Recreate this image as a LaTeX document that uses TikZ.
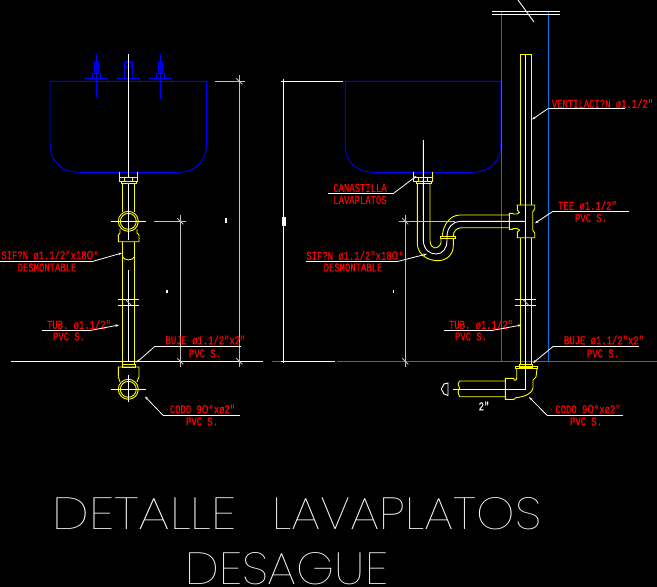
\documentclass[tikz,border=0pt]{standalone}
\usepackage{fontspec}
\usepackage{tikz}
\usetikzlibrary{positioning,calc,arrows.meta}
\newfontfamily\notefont[FakeStretch=0.74,FakeBold=0.35]{Liberation Mono}
\newfontfamily\zerofont[FakeBold=0.35]{Liberation Sans}
\newfontfamily\titlefont[UprightFont={* Thin}]{Poppins}
\newcommand{\zr}{{\zerofont 0}}
\definecolor{sinkblue}{RGB}{0,0,255}
\definecolor{wallblue}{RGB}{0,120,230}
\definecolor{dimgrey}{RGB}{192,192,192}
\definecolor{pipeyellow}{RGB}{255,255,0}
\definecolor{notered}{RGB}{255,0,0}
\tikzset{
  sink/.style={draw=sinkblue, line width=0.9pt},
  wall/.style={draw=wallblue, line width=0.9pt},
  pipe/.style={draw=pipeyellow, line width=0.9pt},
  axis/.style={draw=white, line width=0.9pt},
  dimline/.style={draw=dimgrey, line width=0.9pt},
  rule/.style={draw=white, line width=0.8pt},
  leader/.style={draw=white, line width=0.8pt, -{Stealth[length=3.5pt,width=2.5pt]}},
  note/.style={text=notered, font=\fontsize{12}{13}\notefont, inner sep=0pt},
  bigtitle/.style={text=white, font=\fontsize{45}{50}\titlefont, inner sep=0pt}
}
\begin{document}
\begin{tikzpicture}[x=1pt,y=-1pt]
    \fill[black] (0,0) rectangle (657,587);
    \useasboundingbox (0,0) rectangle (657,587);

    %coordinates
    \coordinate (axisA) at (128.3,54);
    \coordinate (axisB) at (423.3,140);
    \coordinate (vent)  at (525.5,54);

    \coordinate (sifonAtip) at (122,253);
    \coordinate (tubAtip)   at (119,325);
    \coordinate (bujeAtip)  at (136.5,362.5);
    \coordinate (codoAtip)  at (145,396.5);
    \coordinate (canaBtip)  at (416.5,176);
    \coordinate (sifonBtip) at (427,254);
    \coordinate (tubBtip)   at (521.5,325);
    \coordinate (bujeBtip)  at (533,363);
    \coordinate (codoBtip)  at (529,397);
    \coordinate (ventBtip)  at (532,119.5);
    \coordinate (teeBtip)   at (535,223.3);

    %rule ends
    \coordinate (sifonAl) at (0,261.3);   \coordinate (sifonAr) at (93,261.3);
    \coordinate (tubAl)   at (42,330.3);  \coordinate (tubAr)   at (91,330.3);
    \coordinate (bujeAl)  at (155,346.3); \coordinate (bujeAr)  at (240.7,346.3);
    \coordinate (codoAl)  at (163,415.3); \coordinate (codoAr)  at (240,415.3);
    \coordinate (canaBl)  at (328,193);   \coordinate (canaBr)  at (394,193);
    \coordinate (sifonBl) at (306,261.3); \coordinate (sifonBr) at (398,261.3);
    \coordinate (tubBl)   at (444,330.3); \coordinate (tubBr)   at (493,330.3);
    \coordinate (bujeBl)  at (553.3,346.3); \coordinate (bujeBr) at (639,346.3);
    \coordinate (codoBl)  at (547,415.3); \coordinate (codoBr)  at (623,415.3);
    \coordinate (ventBl)  at (548.5,108.3); \coordinate (ventBr) at (625,108.3);
    \coordinate (teeBl)   at (553,211.3); \coordinate (teeBr)   at (629,211.3);

    %walls and floor
    \draw[wall] (501.3,12) -- (501.3,361.3);
    \draw[wall] (548.7,12) -- (548.7,361.3);
    \draw[axis] (11,361.3) -- (263,361.3);
    \draw[wall] (272,361.3) -- (281,361.3);
    \draw[wall] (337,361.3) -- (657,361.3);
    \draw[axis] (281,361.3) -- (335,361.3);
    \draw[axis] (492,11.5) -- (560,11.5);
    \draw[axis] (492,14) -- (560,14);
    \draw[axis] (518,0) -- (534,22);

    %sinks
    \draw[sink] (50,81.3) -- (206.5,81.3) -- (206.5,143) .. controls (206.5,162) and (195,172.3) .. (178,172.3) -- (79,172.3) .. controls (62,172.3) and (50,162) .. (50,143) -- cycle;
    \draw[sink] (345.3,81.3) -- (500.7,81.3) -- (500.7,144) .. controls (500.7,162) and (490,172.3) .. (471.7,172.3) -- (374,172.3) .. controls (357,172.3) and (345.3,162) .. (345.3,146) -- cycle;

    %taps
    \foreach \tapx/\tapend in {96.3/96.7,160.3/99} {
      \draw[sink] (\tapx-11,78) rectangle (\tapx+11,81.3);
      \draw[sink] (\tapx-4,73.3) rectangle (\tapx+4,78);
      \draw[sink] (\tapx-2.3,62.3) rectangle (\tapx+2.3,73.3);
      \draw[sink] (\tapx,54) -- (\tapx,\tapend);
    }
    \draw[sink] (117.3,78) rectangle (139.3,81.3);
    \draw[sink] (124.3,78) -- (124.3,62.7) -- (132.7,62.7) -- (132.7,78);
    \draw[sink] (128.3,64) circle (3.5);

    %left pipe
    \draw[pipe] (119.3,172.3) -- (119.3,181.7) -- (137.7,181.7) -- (137.7,172.3);
    \draw[pipe] (119.3,177.3) -- (137.7,177.3);
    \draw[pipe] (124.3,177.3) -- (124.3,181.7);
    \draw[pipe] (132.3,177.3) -- (132.3,181.7);
    \draw[pipe] (121.7,181.7) -- (121.7,183.7) -- (136.3,183.7) -- (136.3,181.7);
    \draw[pipe] (122.3,183.7) -- (122.3,212);
    \draw[pipe] (134.7,183.7) -- (134.7,212);
    \draw[pipe] (128.3,221.3) circle (8);
    \draw[pipe] (128.3,221.3) circle (10);
    \draw[pipe] (120,229) -- (120,233) -- (118.3,235) -- (118.3,241.7) -- (139,241.7) -- (139,235) -- (137,233) -- (137,229);
    \draw[pipe] (122.3,241.7) -- (122.3,364);
    \draw[pipe] (134.7,241.7) -- (134.7,364);
    \draw[pipe] (122.3,256.5) .. controls (124,261) and (133,261) .. (134.7,256.5);
    \draw[pipe] (122,364) rectangle (135,367);
    \draw[pipe] (118.3,376.7) -- (118.3,367) -- (139,367) -- (139,376.7) -- (137,382);
    \draw[pipe] (118.3,376.7) -- (120,382);
    \draw[pipe] (128.3,389.3) circle (8);
    \draw[pipe] (128.3,389.3) circle (10);
    \draw[axis] (axisA) -- (128.3,177);
    \draw[axis] (128.3,184) -- (128.3,240);
    \draw[axis] (128.3,270) -- (128.3,362);
    \draw[axis] (128.3,375) -- (128.3,402);
    \draw[axis] (111,221.3) -- (146,221.3);
    \draw[axis] (111,389.3) -- (146,389.3);
    \draw[axis] (118.3,299.3) -- (139,299.3);
    \draw[axis] (118.3,305.3) -- (139,305.3);

    %right pipe and trap
    \draw[pipe] (413.3,172.3) -- (413.3,181.7) -- (432.7,181.7) -- (432.7,172.3);
    \draw[pipe] (413.3,177.3) -- (432.7,177.3);
    \draw[pipe] (418.5,177.3) -- (418.5,181.7);
    \draw[pipe] (427.5,177.3) -- (427.5,181.7);
    \draw[pipe] (416,181.7) -- (416,183.7) -- (431,183.7) -- (431,181.7);
    \draw[pipe] (417.3,183.7) -- (417.3,244) .. controls (418,255) and (428,260.7) .. (438,260.7) .. controls (447,260.7) and (453.3,254) .. (453.3,246) -- (453.3,238.7);
    \draw[pipe] (430,183.7) -- (430,241) .. controls (431,250) and (438,250) .. (441,243) -- (441,238.7);
    \draw[pipe] (440,236) rectangle (455.7,238.7);
    \draw[pipe] (442.3,236) .. controls (443,225) and (450,215) .. (460,215) -- (509.3,215);
    \draw[pipe] (453.3,236) .. controls (453.3,232) and (456,227.7) .. (461.7,227.7) -- (509.3,227.7);
    \draw[axis] (axisB) -- (423.3,241) .. controls (424,250) and (430,254) .. (436,254) .. controls (443,254) and (447,248) .. (447,241) -- (447,236) .. controls (447,228) and (453,221.3) .. (460,221.3) -- (525.5,221.3);

    %vent, tee and elbow
    \draw[pipe] (520.3,205) -- (520.3,54) -- (531.7,54) -- (531.7,205);
    \draw[pipe] (517.3,205) -- (534.7,205) -- (534.7,209) -- (532.7,212) -- (532.7,230) -- (534.7,233) -- (534.7,237.7) -- (517.3,237.7) -- (517.3,232) -- (519.5,230) -- (517,228.5) -- (513,228.5) -- (513,229.3) -- (509.3,229.3) -- (509.3,213.3) -- (513,213.3) -- (513,214) -- (517,214) -- (519.5,212.5) -- (517.3,210) -- cycle;
    \draw[pipe] (520.3,237.7) -- (520.3,364);
    \draw[pipe] (531.7,237.7) -- (531.7,364);
    \draw[pipe] (519.7,364) rectangle (532,367);
    \draw[pipe] (515.3,366.7) rectangle (537,368.7);
    \draw[pipe] (516.7,368.7) -- (516.7,378) .. controls (516.7,381) and (513,381) .. (514,378.3) -- (505.3,378.3) -- (505.3,399.3) -- (514,399.3) -- (516,397.7) .. controls (524,396.5) and (531,395) .. (533,388) -- (533,380) -- (536,377) -- (537,368.7);
    \draw[pipe] (505.3,381) -- (459.5,381) -- (458,384) -- (459.5,388) -- (458,392) -- (459.5,396.7) -- (505.3,396.7);
    \draw[axis] (vent) -- (525.5,389.3) -- (453.3,389.3);
    \draw[axis] (448,383) -- (444,384) -- (441.3,389) -- (444,394) -- (448,395.5) -- cycle;
    \draw[axis] (515,299.3) -- (535.7,299.3);
    \draw[axis] (515,305.3) -- (535.7,305.3);

    %dimensions
    \draw[dimline] (215,81.3) -- (245,81.3);
    \draw[dimline] (239.3,75) -- (239.3,367.3);
    \draw[dimline] (154,221.3) -- (186,221.3);
    \draw[dimline] (180.3,215) -- (180.3,367.3);
    \draw[dimline] (399.3,221.3) -- (455,221.3);
    \draw[dimline] (405.3,215) -- (405.3,367.3);
    \draw[axis] (281,81.3) -- (343,81.3);
    \draw[axis] (283.8,79) -- (283.8,363);
    \foreach \dimx/\dimy in {239.3/81.3,180.3/221.3,239.3/361.3,180.3/361.3,405.3/221.3,405.3/361.3,128.3/302.3,525.8/302.3} {
      \draw[dimline] (\dimx-3,\dimy-3) -- (\dimx+3,\dimy+3);
    }
    \fill[white] (225.3,218) rectangle (226.8,223);
    \fill[white] (165.5,290) rectangle (167.5,292.5);
    \fill[white] (282,217) rectangle (286,226);
    \fill[white] (392.5,290) rectangle (394,293);

    %nodes
    \node[note] (sifonA)  at (50,255)    {SIF?N ø1.1/2"x18\zr°};
    \node[note] (desmA)   at (47,267.5)  {DESMONTABLE};
    \node[note] (tubA)    at (79,324.5)  {TUB. ø1.1/2"};
    \node[note] (pvcA)    at (69,336.5)  {PVC S.};
    \node[note] (bujeA)   at (205.5,340) {BUJE ø1.1/2"x2"};
    \node[note] (pvcB)    at (205,353.5) {PVC S.};
    \node[note] (codoA)   at (202.5,409) {CODO 9\zr°xø2"};
    \node[note] (pvcC)    at (202,421.5) {PVC S.};

    \node[note] (canaB)   at (360,188) {CANASTILLA};
    \node[note] (lavaB)   at (360,200) {LAVAPLATOS};
    \node[note] (sifonB)  at (355,255.5) {SIF?N ø1.1/2"x18\zr°};
    \node[note] (desmB)   at (353,267.5) {DESMONTABLE};
    \node[note] (tubB)    at (481,324.5) {TUB. ø1.1/2"};
    \node[note] (pvcD)    at (471,336.5) {PVC S.};
    \node[note] (bujeB)   at (604,340)   {BUJE ø1.1/2"x2"};
    \node[note] (pvcE)    at (603,353.5) {PVC S.};
    \node[note] (codoB)   at (588,409)   {CODO 9\zr°xø2"};
    \node[note] (pvcF)    at (586,421.5) {PVC S.};
    \node[note] (ventB)   at (602.5,103.5) {VENTILACI?N ø1.1/2"};
    \node[note] (teeB)    at (587.5,205.5) {TEE ø1.1/2"};
    \node[note] (pvcG)    at (591,218)   {PVC S.};
    \node[note, text=white] (sizeB) at (484,406) {2"};

    \node[bigtitle, anchor=base west] (titleA) at (52,529) {\scalebox{1.165}[1]{DETALLE}};
    \node[bigtitle, anchor=base west] (titleB) at (272,529) {\scalebox{1.08}[1]{LAVAPLATOS}};
    \node[bigtitle, anchor=base west] (titleC) at (185,584.5) {\scalebox{1.07}[1]{DESAGUE}};

    %edges
    \draw[rule] (sifonAl) -- (sifonAr); \draw[leader] (sifonAr) -- (sifonAtip);
    \draw[rule] (tubAl) -- (tubAr);     \draw[leader] (tubAr) -- (tubAtip);
    \draw[rule] (bujeAr) -- (bujeAl);   \draw[leader] (bujeAl) -- (bujeAtip);
    \draw[rule] (codoAr) -- (codoAl);   \draw[leader] (codoAl) -- (codoAtip);
    \draw[rule] (canaBl) -- (canaBr);   \draw[leader] (canaBr) -- (canaBtip);
    \draw[rule] (sifonBl) -- (sifonBr); \draw[leader] (sifonBr) -- (sifonBtip);
    \draw[rule] (tubBl) -- (tubBr);     \draw[leader] (tubBr) -- (tubBtip);
    \draw[rule] (bujeBr) -- (bujeBl);   \draw[leader] (bujeBl) -- (bujeBtip);
    \draw[rule] (codoBr) -- (codoBl);   \draw[leader] (codoBl) -- (codoBtip);
    \draw[rule] (ventBr) -- (ventBl);   \draw[leader] (ventBl) -- (ventBtip);
    \draw[rule] (teeBr) -- (teeBl);     \draw[leader] (teeBl) -- (teeBtip);
\end{tikzpicture}
\end{document}
